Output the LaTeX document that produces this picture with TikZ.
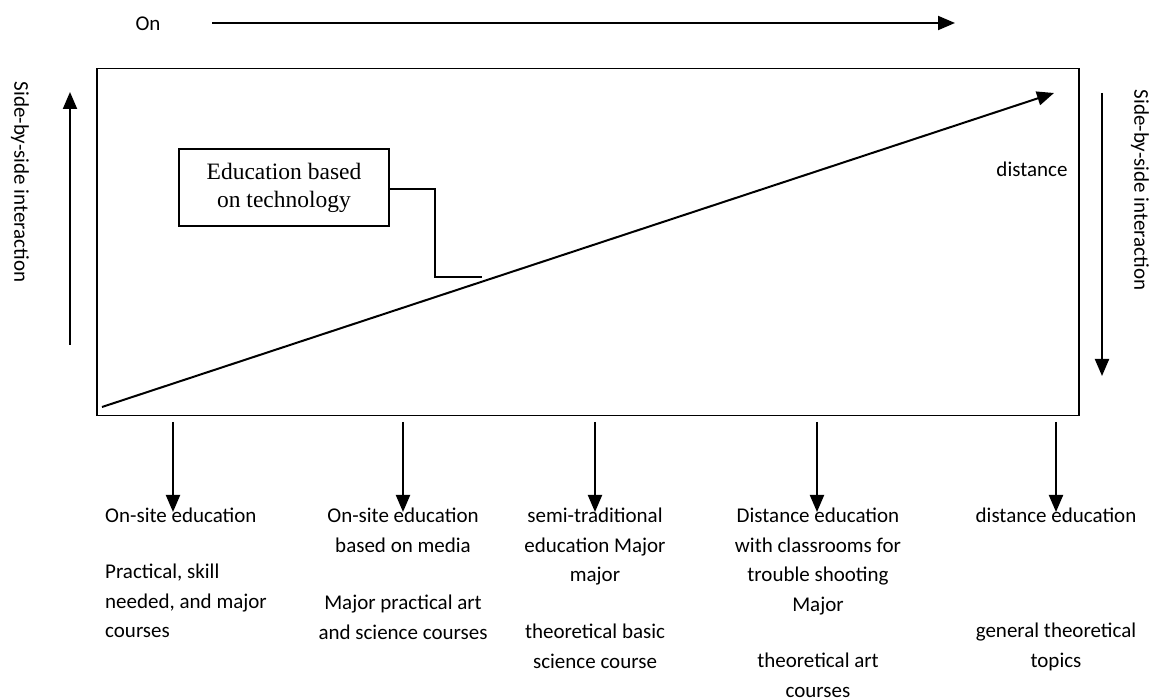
\documentclass[tikz,border=0pt]{standalone}
\usepackage{fontspec}
\setmainfont{Carlito}
\newfontfamily\serifbox{Liberation Serif}
\usetikzlibrary{arrows.meta}
\tikzset{
  lbl/.style={inner sep=0pt, font=\fontsize{21}{29.5}\selectfont},
  coltext/.style={lbl, anchor=north, align=center},
  bigarrow/.style={line width=2pt, -{Triangle[length=17pt,width=14pt]}},
  frame/.style={draw, line width=1.5pt},
  techbox/.style={draw, line width=1.3pt, minimum width=210pt, minimum height=77pt, inner sep=0pt, align=center, font=\serifbox\fontsize{23.5}{28}\selectfont},
  link/.style={line width=1.3pt}
}
\begin{document}
\begin{tikzpicture}[x=1pt,y=-1pt]
\useasboundingbox (0,0) rectangle (1152,700);
% top
\node[lbl] (on) at (148,24) {On};
\coordinate (tA) at (212,23);
\coordinate (tB) at (955,23);
\draw[bigarrow] (tA) -- (tB);
% main frame
\node[frame, minimum width=982pt, minimum height=347pt, inner sep=0pt, anchor=north west] (frame) at (96,68) {};
% diagonal
\coordinate (dA) at (102,407);
\coordinate (dB) at (1054,93);
\draw[bigarrow] (dA) -- (dB);
% tech box
\node[techbox] (tech) at (284,187.5) {Education based\\on technology};
\coordinate (k1) at (435,189);
\coordinate (k2) at (435,277);
\coordinate (k3) at (482,277);
\draw[link] (tech.east |- k1) -- (k1) -- (k2) -- (k3);
\node[lbl] (dist) at (1032,169) {distance};
% side arrows
\coordinate (lA) at (70,345);
\coordinate (lB) at (70,92);
\draw[bigarrow] (lA) -- (lB);
\node[lbl, rotate=-90] (lt) at (20,182) {Side-by-side interaction};
\coordinate (rA) at (1102,93);
\coordinate (rB) at (1102,376);
\draw[bigarrow] (rA) -- (rB);
\node[lbl, rotate=-90] (rt) at (1140,190) {Side-by-side interaction};
% bottom arrows
\foreach \n/\x in {1/173,2/403,3/595,4/817,5/1056}{
  \coordinate (b\n a) at (\x,422);
  \coordinate (b\n b) at (\x,512);
  \draw[bigarrow] (b\n a) -- (b\n b);
}
% column texts
\node[lbl, anchor=north west] (c1a) at (105,508) {On-site education};
\node[lbl, anchor=north west, align=left] (c1b) at (105,564) {Practical, skill\\needed, and major\\courses};
\node[coltext] (c2a) at (403,508) {On-site education\\based on media};
\node[coltext] (c2b) at (403,595) {Major practical art\\and science courses};
\node[coltext] (c3a) at (595,508) {semi-traditional\\education Major\\major};
\node[coltext] (c3b) at (595,624) {theoretical basic\\science course};
\node[coltext] (c4a) at (818,508) {Distance education\\with classrooms for\\trouble shooting\\Major};
\node[coltext] (c4b) at (818,653) {theoretical art\\courses};
\node[coltext] (c5a) at (1056,508) {distance education};
\node[coltext] (c5b) at (1056,623) {general theoretical\\topics};
\end{tikzpicture}
\end{document}
